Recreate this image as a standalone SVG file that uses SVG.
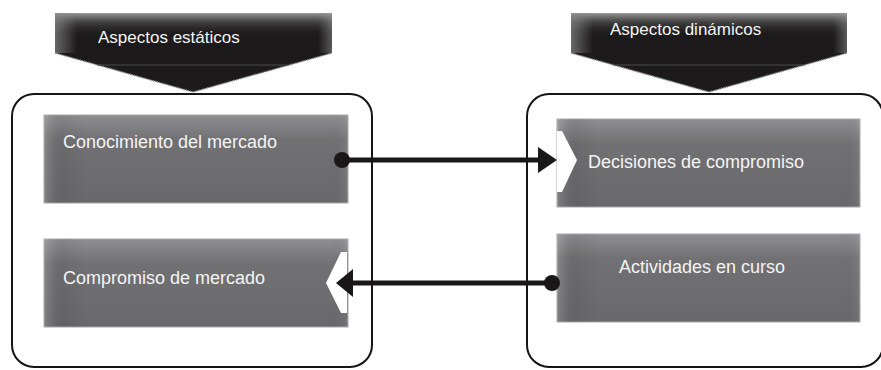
<svg xmlns="http://www.w3.org/2000/svg" width="881" height="370" viewBox="0 0 881 370">
  <defs>
    <linearGradient id="boxShade" x1="0" y1="0" x2="0" y2="1">
      <stop offset="0" stop-color="#8f8f93"/>
      <stop offset="0.28" stop-color="#717174"/>
      <stop offset="1" stop-color="#69696b"/>
    </linearGradient>
    <linearGradient id="boxSide" x1="0" y1="0" x2="1" y2="0">
      <stop offset="0" stop-color="#ffffff" stop-opacity="0.16"/>
      <stop offset="0.06" stop-color="#000000" stop-opacity="0.06"/>
      <stop offset="0.14" stop-color="#000000" stop-opacity="0"/>
      <stop offset="0.94" stop-color="#000000" stop-opacity="0"/>
      <stop offset="1" stop-color="#ffffff" stop-opacity="0.08"/>
    </linearGradient>
    <linearGradient id="bannerGloss" x1="0" y1="0" x2="0" y2="1">
      <stop offset="0" stop-color="#a0a0a0" stop-opacity="0.95"/>
      <stop offset="0.25" stop-color="#5a5a5a" stop-opacity="0.55"/>
      <stop offset="0.6" stop-color="#1c1a1b" stop-opacity="0"/>
    </linearGradient>
    <linearGradient id="bannerSide" x1="0" y1="0" x2="1" y2="0">
      <stop offset="0" stop-color="#8a8a8a" stop-opacity="0.7"/>
      <stop offset="0.08" stop-color="#8a8a8a" stop-opacity="0"/>
      <stop offset="0.95" stop-color="#8a8a8a" stop-opacity="0"/>
      <stop offset="1" stop-color="#9a9a9a" stop-opacity="0.5"/>
    </linearGradient>
  </defs>
  <style>
    .frame { fill: #ffffff; stroke: #151515; stroke-width: 2; }
    .banner { fill: #1c1a1b; }
    .bannerEdge { fill: none; stroke: #8c8c8c; stroke-width: 1.5; stroke-dasharray: 1 1; }
    .bannerRule { stroke: #4a4a4a; stroke-width: 1; }
    .box { fill: url(#boxShade); stroke: #a8a8aa; stroke-width: 1; }
    .boxSide { fill: url(#boxSide); }
    .notch { fill: #ffffff; }
    .label { font-family: "Liberation Sans", Arial, sans-serif; font-size: 17px; fill: #f4f4f4; }
    .boxLabel { font-size: 18px; }
    .link { stroke: #1a1718; stroke-width: 5; fill: none; }
    .head { fill: #1a1718; }
  </style>

  <!-- outer frames -->
  <g id="frame-static">
    <rect class="frame" x="12" y="94" width="360" height="273" rx="22"/>
  </g>
  <g id="frame-dynamic">
    <rect class="frame" x="527" y="94" width="356" height="273" rx="22"/>
  </g>

  <!-- header banners -->
  <g id="banner-static">
    <path class="banner" d="M55,13 H332 V53 L193,92 L55,53 Z"/>
    <rect x="55" y="13" width="277" height="40" fill="url(#bannerGloss)"/>
    <rect x="55" y="13" width="277" height="40" fill="url(#bannerSide)"/>
    <path class="bannerEdge" d="M55,53 L193,92 L332,53"/>
    <line class="bannerRule" x1="97" y1="65" x2="289" y2="65"/>
    <text class="label" x="98" y="43">Aspectos estáticos</text>
  </g>
  <g id="banner-dynamic">
    <path class="banner" d="M571,13 H847 V53 L709,92 L571,53 Z"/>
    <rect x="571" y="13" width="276" height="40" fill="url(#bannerGloss)"/>
    <rect x="571" y="13" width="276" height="40" fill="url(#bannerSide)"/>
    <path class="bannerEdge" d="M571,53 L709,92 L847,53"/>
    <line class="bannerRule" x1="613" y1="65" x2="804" y2="65"/>
    <text class="label" x="610" y="35">Aspectos dinámicos</text>
  </g>

  <!-- content boxes -->
  <g id="box-conocimiento">
    <rect class="box" x="44" y="115" width="304" height="88"/>
    <rect class="boxSide" x="44" y="115" width="304" height="88"/>
    <text class="label boxLabel" x="63" y="148">Conocimiento del mercado</text>
  </g>
  <g id="box-decisiones">
    <rect class="box" x="557" y="119" width="303" height="88"/>
    <rect class="boxSide" x="557" y="119" width="303" height="88"/>
    <polygon class="notch" points="557,131 562,131 577,160 562,192 557,192"/>
    <text class="label boxLabel" x="588" y="168">Decisiones de compromiso</text>
  </g>
  <g id="box-compromiso">
    <rect class="box" x="44" y="239" width="304" height="88"/>
    <rect class="boxSide" x="44" y="239" width="304" height="88"/>
    <polygon class="notch" points="347,252 341,252 326,283 341,313 347,313"/>
    <text class="label boxLabel" x="63" y="284">Compromiso de mercado</text>
  </g>
  <g id="box-actividades">
    <rect class="box" x="557" y="234" width="303" height="88"/>
    <rect class="boxSide" x="557" y="234" width="303" height="88"/>
    <text class="label boxLabel" x="619" y="273">Actividades en curso</text>
  </g>

  <!-- connectors -->
  <g id="connectors">
    <line class="link" x1="342" y1="160" x2="540" y2="160"/>
    <circle class="head" cx="342" cy="160" r="8"/>
    <polygon class="head" points="538,147 557,160 538,173"/>

    <line class="link" x1="552" y1="283" x2="351" y2="283"/>
    <circle class="head" cx="552" cy="283" r="8"/>
    <polygon class="head" points="353,269 336,283 353,297"/>
  </g>
</svg>
